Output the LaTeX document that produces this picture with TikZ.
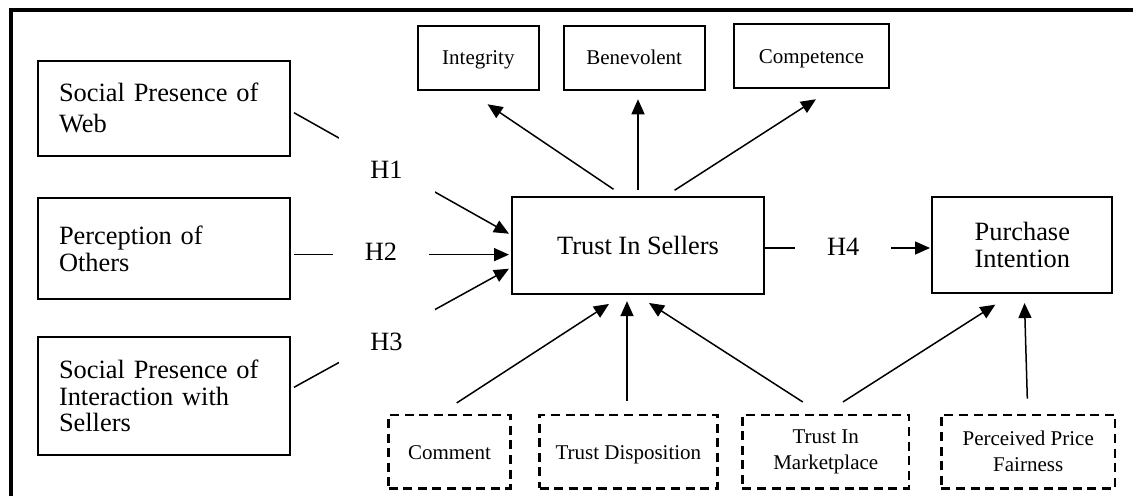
\documentclass[tikz,border=0pt]{standalone}
\usepackage{fontspec}
\setmainfont{Liberation Serif}
\usetikzlibrary{arrows.meta,positioning}

\begin{document}
\begin{tikzpicture}[
    node distance=12pt,
    bigfont/.style={font=\fontsize{13.2}{13.3}\selectfont},
    smallfont/.style={font=\fontsize{10.5}{13}\selectfont},
    lbox/.style={rectangle, draw=black, line width=1pt, align=left, bigfont,
                 text width=104.75pt, inner xsep=10.75pt, inner ysep=0pt},
    cbox/.style={rectangle, draw=black, line width=1pt, align=center, bigfont, inner sep=0pt},
    abox/.style={rectangle, draw=black, line width=1pt, align=center, smallfont,
                 minimum height=32pt, inner sep=0pt, text height=9.5pt, text depth=2.5pt},
    dbox/.style={rectangle, draw=black, line width=1.2pt, dash pattern=on 4.5pt off 2.8pt,
                 align=center, smallfont, minimum height=36.8pt, inner sep=0pt},
    oneline/.style={text height=10pt, text depth=2.5pt},
    hlab/.style={fill=white, bigfont, minimum width=48pt, minimum height=33pt, inner sep=0pt},
    flow/.style={-{Triangle[length=7.5pt, width=6.5pt]}, line width=0.75pt}
]
\useasboundingbox (0,0) rectangle (566.5pt,-247.5pt);
\draw[line width=2pt] (5.25pt,-260pt) -- (5.25pt,-5pt) -- (580pt,-5pt);

\node[lbox, minimum height=47.65pt, font=\fontsize{13.2}{15.5}\selectfont] (spw) at (81.875pt,-54.15pt) {Social Presence of\\Web};
\node[lbox, minimum height=50.65pt, below=20pt of spw] (po) {Perception of\\Others};
\node[lbox, minimum height=58.7pt, below=18pt of po] (spis) {Social Presence of\\Interaction with\\Sellers};

\node[cbox, minimum width=126pt, minimum height=48.35pt, right=110pt of po, yshift=1.7pt] (tis) {Trust In Sellers};
\node[cbox, minimum width=89.9pt, minimum height=47.85pt, right=83.2pt of tis] (pi) {Purchase\\Intention};

\node[abox, minimum width=70.35pt, above=52.5pt of tis, xshift=-1.9pt] (ben) {Benevolent};
\node[abox, minimum width=60.3pt, left=11.6pt of ben] (integ) {Integrity};
\node[abox, minimum width=77.3pt, right=13.75pt of ben, yshift=0.9pt] (comp) {Competence};

\node[dbox, oneline, minimum width=88.9pt, below=59.5pt of tis, xshift=-4.8pt] (tdisp) {Trust Disposition};
\node[dbox, oneline, minimum width=60.85pt, left=13.4pt of tdisp] (cmt) {Comment};
\node[dbox, minimum width=83.35pt, right=11.35pt of tdisp] (tim) {Trust In\\Marketplace};
\node[dbox, minimum width=86.8pt, right=14.95pt of tim] (ppf) {Perceived Price\\Fairness};

% hypotheses H1--H4
\draw[flow] ([shift={(1.5pt,-2.2pt)}]spw.east) -- ([shift={(-1pt,5.75pt)}]tis.west);
\draw[flow] ([shift={(1.5pt,-3pt)}]po.east) -- ([shift={(-1pt,-4.7pt)}]tis.west);
\draw[flow] ([shift={(1.5pt,4.33pt)}]spis.east) -- ([shift={(-1pt,-11.75pt)}]tis.west);
\draw[flow] ([yshift=-1.4pt]tis.east) -- ([shift={(-0.7pt,-1.4pt)}]pi.west);

% trust dimensions
\draw[flow] ([shift={(-12.25pt,3.3pt)}]tis.north) -- ([shift={(4.6pt,-6.7pt)}]integ.south);
\draw[flow] ([yshift=3pt]tis.north) -- ([shift={(1.9pt,-4.2pt)}]ben.south);
\draw[flow] ([shift={(18.3pt,2.8pt)}]tis.north) -- ([shift={(2.3pt,-5.1pt)}]comp.south);

% controls
\draw[flow] ([shift={(3.6pt,5.3pt)}]cmt.north) -- ([shift={(-14.5pt,-4.7pt)}]tis.south);
\draw[flow] ([shift={(-0.7pt,6.5pt)}]tdisp.north) -- ([shift={(-5.5pt,-3.3pt)}]tis.south);
\draw[flow] ([shift={(-11.5pt,5.8pt)}]tim.north) -- ([shift={(5.5pt,-4.2pt)}]tis.south);
\draw[flow] ([shift={(8.6pt,5.8pt)}]tim.north) -- ([shift={(-13.5pt,-5.3pt)}]pi.south);
\draw[flow] ([shift={(-0.45pt,7.5pt)}]ppf.north) -- ([shift={(1.1pt,-4.5pt)}]pi.south);

\node[hlab] (h1) at (193.25pt,-85pt) {H1};
\node[hlab] (h2) at (190.5pt,-126pt) {H2};
\node[hlab] (h3) at (193.25pt,-170.85pt) {H3};
\node[hlab] (h4) at (421.65pt,-123.5pt) {H4};
\end{tikzpicture}
\end{document}
